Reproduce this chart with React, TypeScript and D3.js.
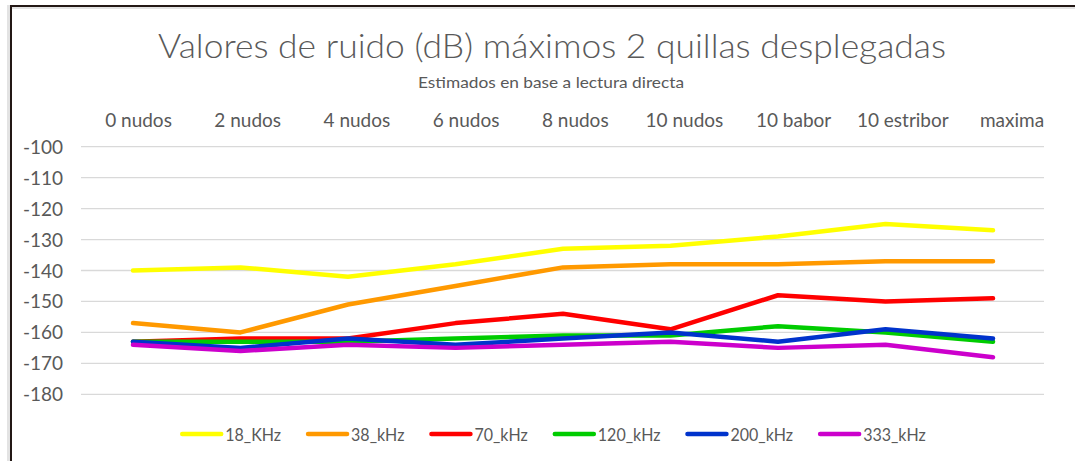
import { useMemo } from 'react'
import * as d3 from 'd3'

const W = 1075
const H = 461

const categories = ['0 nudos', '2 nudos', '4 nudos', '6 nudos', '8 nudos', '10 nudos', '10 babor', '10 estribor', 'maxima']
const yTicks = [-100, -110, -120, -130, -140, -150, -160, -170, -180]

const seriesNames = ['18_KHz', '38_kHz', '70_kHz', '120_kHz', '200_kHz', '333_kHz']
const seriesColors = ['#ffff00', '#ff9900', '#ff0000', '#00cc00', '#0033cc', '#cc00cc']

const khz18 = [-140, -139, -142, -138, -133, -132, -129, -125, -127]
const khz38 = [-157, -160, -151, -145, -139, -138, -138, -137, -137]
const khz70 = [-163, -162, -162, -157, -154, -159, -148, -150, -149]
const khz120 = [-163, -163, -163, -162, -161, -161, -158, -160, -163]
const khz200 = [-163, -165, -162, -164, -162, -160, -163, -159, -162]
const khz333 = [-164, -166, -164, -165, -164, -163, -165, -164, -168]

const seriesValues = [khz18, khz38, khz70, khz120, khz200, khz333]

const FONT = 'Lato, "Open Sans", sans-serif'
const TEXT = '#595959'

function measure(text: string, font: string) {
  const ctx = document.createElement('canvas').getContext('2d')
  if (!ctx) return text.length * 9
  ctx.font = font
  return ctx.measureText(text).width
}

export default function App() {
  const x = d3.scalePoint<string>().domain(categories).range([133, 993])
  const xLabel = d3.scalePoint<string>().domain(categories).range([138.5, 1012])
  const y = d3.scaleLinear().domain([-180, -100]).range([394.3, 146.7])

  const line = d3.line<number>()
    .x((_, i) => x(categories[i]) ?? 0)
    .y((d) => y(d))

  // legend layout: swatch + label (squeezed a bit to calibri-ish widths), centered
  const legend = useMemo(() => {
    const sw = 43
    const gap = 25
    const widths = seriesNames.map((n) => measure(n, `18px ${FONT}`) * 0.89)
    const total = widths.reduce((a, w) => a + sw + 2 + w + gap, 0) - gap
    let cx = 553 - total / 2
    return seriesNames.map((n, i) => {
      const item = { name: n, color: seriesColors[i], x: cx, w: widths[i] }
      cx += sw + 2 + widths[i] + gap
      return item
    })
  }, [])

  return (
    <svg width={W} height={H} style={{ position: 'absolute', left: 0, top: 0, background: '#fff' }}>
      {/* frame with shadow */}
      <rect x={7} y={5} width={4} height={H} fill="#e3e3e3" />
      <rect x={10} y={7} width={W} height={2} fill="#e3e3e3" />
      <line x1={10} y1={6} x2={W} y2={6} stroke="#231815" strokeWidth={2} />
      <line x1={11} y1={5} x2={11} y2={H} stroke="#231815" strokeWidth={2} />

      <text x={552} y={58} textAnchor="middle" fontFamily={FONT} fontSize={33} fontWeight={300} fill={TEXT}
        textLength={788} lengthAdjust="spacingAndGlyphs">
        Valores de ruido (dB) máximos 2 quillas desplegadas
      </text>
      <text x={551} y={88} textAnchor="middle" fontFamily={FONT} fontSize={15} fill={TEXT}
        textLength={266} lengthAdjust="spacingAndGlyphs">
        Estimados en base a lectura directa
      </text>

      {categories.map((c) => (
        <text key={c} x={xLabel(c)} y={127} textAnchor="middle" fontFamily={FONT} fontSize={19} fill={TEXT}>
          {c}
        </text>
      ))}

      {yTicks.map((t) => (
        <g key={t}>
          <line x1={81} x2={1044} y1={y(t)} y2={y(t)} stroke="#d9d9d9" strokeWidth={1.3} />
          <text x={63} y={y(t) + 7} textAnchor="end" fontFamily={FONT} fontSize={19} fill={TEXT}>
            {t}
          </text>
        </g>
      ))}

      {seriesValues.map((vals, i) => (
        <path key={seriesNames[i]} d={line(vals) ?? ''} fill="none" stroke={seriesColors[i]}
          strokeWidth={4.5} strokeLinejoin="round" strokeLinecap="round" />
      ))}

      {legend.map((it) => (
        <g key={it.name}>
          <line x1={it.x + 2} x2={it.x + 41} y1={434} y2={434} stroke={it.color} strokeWidth={4.5} strokeLinecap="round" />
          <text x={it.x + 45} y={440.5} fontFamily={FONT} fontSize={18} fill={TEXT}
            textLength={it.w} lengthAdjust="spacingAndGlyphs">
            {it.name}
          </text>
        </g>
      ))}
    </svg>
  )
}
